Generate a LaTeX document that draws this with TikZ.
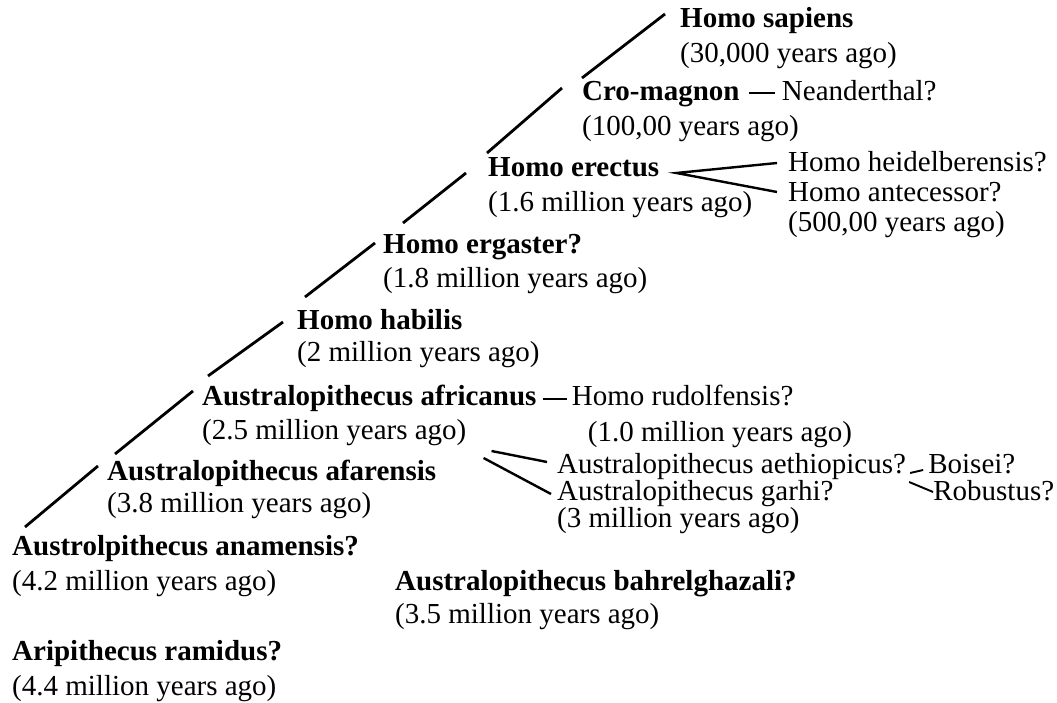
\documentclass[tikz,border=0pt]{standalone}
\usepackage{fontspec}
\setmainfont{Liberation Serif}
\usepackage{tikz}

\begin{document}
\begin{tikzpicture}[x=1pt, y=1pt,
    every node/.style={font=\fontsize{29}{34}\selectfont, anchor=base west, inner sep=0pt},
    taxon/.style={font=\fontsize{29}{34}\selectfont\bfseries},
    trunk/.style={line width=2.8pt},
    twig/.style={line width=2.4pt},
    rule/.style={line width=1.9pt}]
    \useasboundingbox (0,0) rectangle (1057,702);
    % main line
    \node[taxon] (sapiens) at (680,674) {Homo sapiens};
    \node (sapiensd) at ([yshift=-35pt]sapiens.base west) {(30,000 years ago)};
    \node[taxon] (cro) at (582,601) {Cro-magnon};
    \node (crod) at ([yshift=-35pt]cro.base west) {(100,00 years ago)};
    \node (neander) at ([xshift=42pt]cro.base east) {Neanderthal?};
    \node[taxon] (erectus) at (488,525) {Homo erectus};
    \node (erectusd) at ([yshift=-35pt]erectus.base west) {(1.6 million years ago)};
    \node (heidel) at (788,530) {Homo heidelberensis?};
    \node (antec) at ([yshift=-30pt]heidel.base west) {Homo antecessor?};
    \node (antecd) at ([yshift=-30pt]antec.base west) {(500,00 years ago)};
    \node[taxon] (ergaster) at (383,448) {Homo ergaster?};
    \node (ergasterd) at ([yshift=-34pt]ergaster.base west) {(1.8 million years ago)};
    \node[taxon] (habilis) at (297,372) {Homo habilis};
    \node (habilisd) at ([yshift=-32pt]habilis.base west) {(2 million years ago)};
    \node[taxon] (africanus) at (202,296) {Australopithecus africanus};
    \node (africanusd) at ([yshift=-34pt]africanus.base west) {(2.5 million years ago)};
    \node (rudolf) at ([xshift=35pt]africanus.base east) {Homo rudolfensis?};
    \node (rudolfd) at ([xshift=16pt, yshift=-35pt]rudolf.base west) {(1.0 million years ago)};
    \node[taxon] (afarensis) at (107,222) {Australopithecus afarensis};
    \node (afarensisd) at ([yshift=-32pt]afarensis.base west) {(3.8 million years ago)};
    \node (aethiop) at (557,229) {Australopithecus aethiopicus?};
    \node (garhi) at ([yshift=-27pt]aethiop.base west) {Australopithecus garhi?};
    \node (garhid) at ([yshift=-27pt]garhi.base west) {(3 million years ago)};
    \node (boisei) at ([xshift=22pt]aethiop.base east) {Boisei?};
    \node (robustus) at ([xshift=27pt, yshift=-27pt]aethiop.base east) {Robustus?};
    \node[taxon] (anamensis) at (12,147) {Austrolpithecus anamensis?};
    \node (anamensisd) at ([yshift=-35pt]anamensis.base west) {(4.2 million years ago)};
    \node[taxon] (bahrel) at (395,112) {Australopithecus bahrelghazali?};
    \node (bahreld) at ([yshift=-33pt]bahrel.base west) {(3.5 million years ago)};
    \node[taxon] (ramidus) at (12,42) {Aripithecus ramidus?};
    \node (ramidusd) at ([yshift=-35pt]ramidus.base west) {(4.4 million years ago)};

    % stems
    \draw[trunk] ([shift={(0,23)}]cro.base west) -- ([shift={(-15,14)}]sapiens.base west);
    \draw[trunk] ([shift={(-1,24)}]erectus.base west) -- ([shift={(-20,13)}]cro.base west);
    \draw[trunk] ([shift={(20,31)}]ergaster.base west) -- ([shift={(-22,4)}]erectus.base west);
    \draw[trunk] ([shift={(8,33)}]habilis.base west) -- ([shift={(-8,11)}]ergaster.base west);
    \draw[trunk] ([shift={(6,30)}]africanus.base west) -- ([shift={(-14,8)}]habilis.base west);
    \draw[trunk] ([shift={(8,26)}]afarensis.base west) -- ([shift={(-9,15)}]africanus.base west);
    \draw[trunk] ([shift={(13,28)}]anamensis.base west) -- ([shift={(-9,14)}]afarensis.base west);

    % side branches
    \draw[rule] ([shift={(9,8)}]cro.base east) -- ([shift={(-7,8)}]neander.base west);
    \draw[rule] ([shift={(6,7)}]africanus.base east) -- ([shift={(-5,7)}]rudolf.base west);
    \draw[twig] ([shift={(-11,9)}]heidel.base west) -- ([shift={(17,4)}]erectus.base east) -- ([shift={(-11,10)}]antec.base west);
    \draw[twig] ([shift={(25,-11)}]africanusd.base east) -- ([shift={(-10,11)}]aethiop.base west);
    \draw[twig] ([shift={(17,-18)}]africanusd.base east) -- ([shift={(-6,6)}]garhi.base west);
    \draw[rule] ([shift={(4,0)}]aethiop.base east) -- ([shift={(-5,3)}]boisei.base west);
    \draw[rule] ([shift={(3,-9)}]aethiop.base east) -- ([shift={(0,8)}]robustus.base west);
\end{tikzpicture}
\end{document}
